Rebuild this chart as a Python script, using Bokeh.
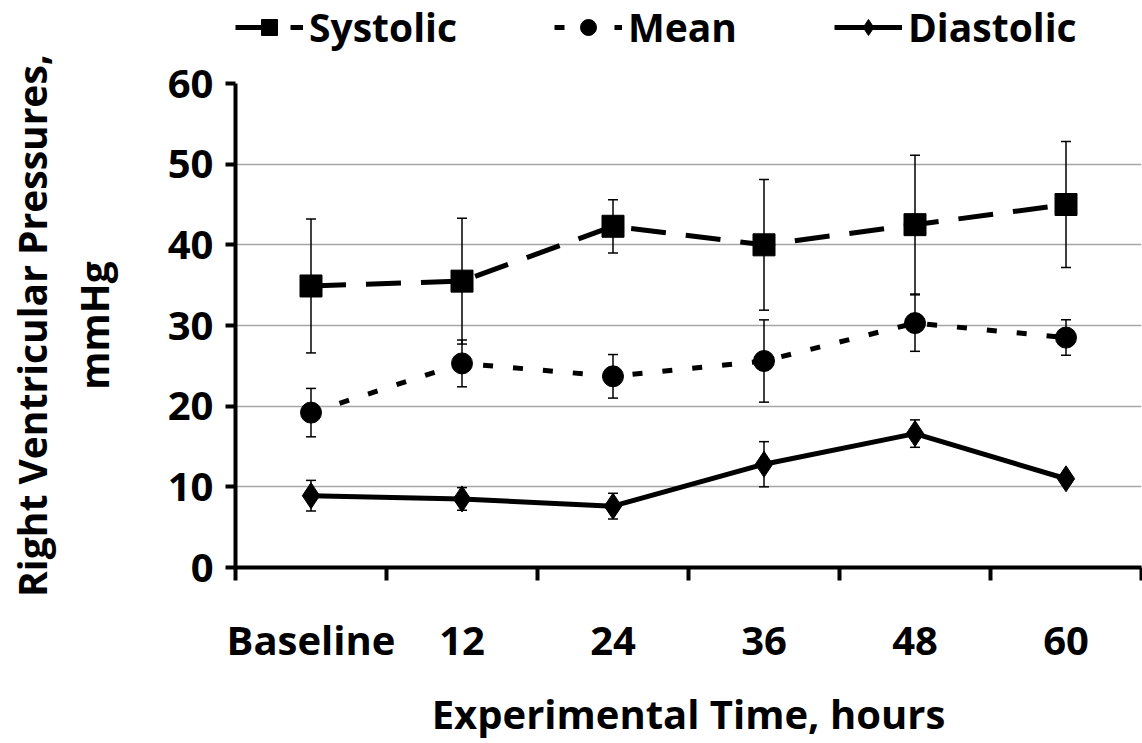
import numpy as np
from bokeh.plotting import figure
from bokeh.layouts import column
from bokeh.models import (ColumnDataSource, Whisker, TeeHead, Legend, LegendItem,
                          FixedTicker, Range1d)
from bokeh.embed import file_html
from bokeh.resources import INLINE

categories = ["Baseline", "12", "24", "36", "48", "60"]
systolic = [34.9, 35.5, 42.3, 40.0, 42.5, 45.0]
systolic_err = [8.3, 7.8, 3.3, 8.1, 8.6, 7.8]
mean = [19.2, 25.3, 23.7, 25.6, 30.3, 28.5]
mean_err = [3.0, 2.9, 2.7, 5.1, 3.5, 2.2]
diastolic = [8.9, 8.5, 7.6, 12.8, 16.6, 11.0]
diastolic_err = [1.9, 1.4, 1.6, 2.8, 1.7, 0.5]
y_ticks = [0, 10, 20, 30, 40, 50, 60]

FONT = "Open Sans"
FS = "40px"

xs = list(range(len(categories)))

# ---------------- main chart ----------------
p = figure(width=1142, height=690, output_backend="svg", toolbar_location=None,
           x_range=Range1d(-0.5, 5.5), y_range=Range1d(0, 60),
           min_border_left=235, min_border_right=1, min_border_top=30,
           min_border_bottom=175)
p.outline_line_color = None
p.background_fill_color = "white"

p.xgrid.grid_line_color = None
p.ygrid.grid_line_color = "#a6a6a6"
p.ygrid.grid_line_width = 1.5
p.ygrid.ticker = FixedTicker(ticks=y_ticks[1:])

p.yaxis.ticker = FixedTicker(ticks=y_ticks)
p.yaxis.axis_line_width = 4
p.yaxis.axis_line_color = "black"
p.yaxis.major_tick_line_width = 4
p.yaxis.major_tick_out = 10
p.yaxis.major_tick_in = 0
p.yaxis.minor_tick_line_color = None
p.yaxis.major_label_text_font = FONT
p.yaxis.major_label_text_font_style = "bold"
p.yaxis.major_label_text_font_size = FS
p.yaxis.major_label_text_color = "black"
p.yaxis.major_label_standoff = 12
p.yaxis.axis_label = "Right Ventricular Pressures,\nmmHg"
p.yaxis.axis_label_text_font = FONT
p.yaxis.axis_label_text_font_style = "bold"
p.yaxis.axis_label_text_font_size = "39px"
p.yaxis.axis_label_text_color = "black"
p.yaxis.axis_label_text_line_height = 1.17
p.yaxis.axis_label_standoff = 45

p.xaxis.ticker = FixedTicker(ticks=xs, minor_ticks=[-0.5, 0.5, 1.5, 2.5, 3.5, 4.5, 5.5])
p.xaxis.major_label_overrides = {i: c for i, c in enumerate(categories)}
p.xaxis.axis_line_width = 4
p.xaxis.axis_line_color = "black"
p.xaxis.major_tick_out = 0
p.xaxis.major_tick_in = 0
p.xaxis.major_tick_line_color = None
p.xaxis.minor_tick_out = 13
p.xaxis.minor_tick_in = 0
p.xaxis.minor_tick_line_width = 4
p.xaxis.minor_tick_line_color = "black"
p.xaxis.major_label_text_font = FONT
p.xaxis.major_label_text_font_style = "bold"
p.xaxis.major_label_text_font_size = FS
p.xaxis.major_label_text_color = "black"
p.xaxis.major_label_standoff = 31
p.xaxis.axis_label = "Experimental Time, hours"
p.xaxis.axis_label_text_font = FONT
p.xaxis.axis_label_text_font_style = "bold"
p.xaxis.axis_label_text_font_size = FS
p.xaxis.axis_label_text_color = "black"
p.xaxis.axis_label_standoff = 16

# ---------------- legend strip ----------------
# same series sources, but with ranges where no data point is visible:
# only the legend samples show in this strip
lf = figure(width=1142, height=53, output_backend="svg", toolbar_location=None,
            x_range=Range1d(-0.5, 5.5), y_range=Range1d(-2, -1), min_border=0)
lf.axis.visible = False
lf.grid.visible = False
lf.outline_line_color = None

series = [
    ("Systolic", systolic, systolic_err, "35 20", "square", 22),
    ("Mean", mean, mean_err, "10 20", "circle", 21),
    ("Diastolic", diastolic, diastolic_err, "solid", "diamond", 26),
]

items = []
for name, vals, errs, dash, marker, size in series:
    v = np.array(vals)
    e = np.array(errs)
    src = ColumnDataSource(dict(x=xs, y=v, upper=v + e, lower=v - e))
    w = Whisker(base="x", upper="upper", lower="lower", source=src,
                line_width=1.5, line_color="black",
                upper_head=TeeHead(size=10, line_width=1.5, line_color="black"),
                lower_head=TeeHead(size=10, line_width=1.5, line_color="black"))
    p.add_layout(w)
    p.line("x", "y", source=src, line_width=5, line_color="black", line_dash=dash)
    p.scatter("x", "y", source=src, marker=marker, size=size,
              fill_color="black", line_color="black")
    lr = lf.line("x", "y", source=src, line_width=5, line_color="black", line_dash=dash)
    sr = lf.scatter("x", "y", source=src, marker=marker, size=size,
                    fill_color="black", line_color="black")
    items.append(LegendItem(label=name, renderers=[lr, sr]))

legend = Legend(items=items, orientation="horizontal", location=(0, 0),
                label_text_font=FONT, label_text_font_style="bold",
                label_text_font_size="39px", label_text_color="black",
                glyph_width=68, glyph_height=40, label_height=40,
                label_standoff=6, spacing=97, padding=0, margin=0,
                background_fill_alpha=0, border_line_alpha=0)
lf.add_layout(legend)

layout = column(lf, p, spacing=0)
open("out.html", "w").write(file_html(layout, INLINE))
